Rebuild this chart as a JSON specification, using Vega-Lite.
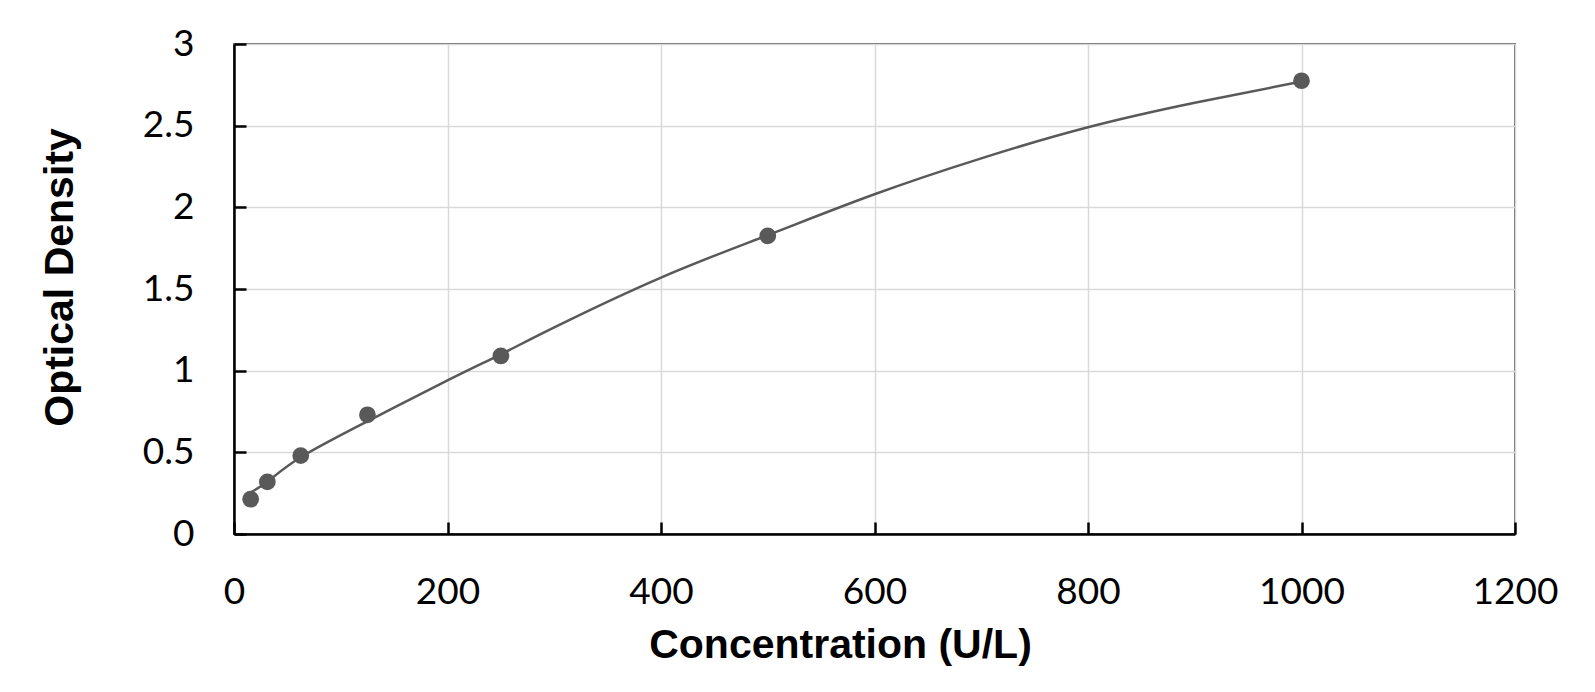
{
  "$schema": "https://vega.github.io/schema/vega-lite/v6.json",
  "width": 1281,
  "height": 490,
  "autosize": "none",
  "padding": {"left": 234, "top": 44, "right": 80, "bottom": 158},
  "background": "white",
  "datasets": {
    "standards": [
      {"conc": 15.6, "od": 0.213},
      {"conc": 31.25, "od": 0.319},
      {"conc": 62.5, "od": 0.48},
      {"conc": 125, "od": 0.73},
      {"conc": 250, "od": 1.09},
      {"conc": 500, "od": 1.825},
      {"conc": 1000, "od": 2.775}
    ],
    "fit": [
      {"conc": 15.6, "od": 0.255},
      {"conc": 31.25, "od": 0.32},
      {"conc": 62.5, "od": 0.47},
      {"conc": 125, "od": 0.69},
      {"conc": 200, "od": 0.94},
      {"conc": 250, "od": 1.1},
      {"conc": 300, "od": 1.265},
      {"conc": 400, "od": 1.57},
      {"conc": 500, "od": 1.83},
      {"conc": 600, "od": 2.08},
      {"conc": 700, "od": 2.3},
      {"conc": 800, "od": 2.49},
      {"conc": 900, "od": 2.64},
      {"conc": 1000, "od": 2.77}
    ]
  },
  "encoding": {
    "x": {
      "field": "conc", "type": "quantitative", "title": "Concentration (U/L)",
      "scale": {"domain": [0, 1200], "nice": false, "zero": true},
      "axis": {"values": [0, 200, 400, 600, 800, 1000, 1200], "format": "d", "labelFlush": false, "titlePadding": 15, "titleX": 606}
    },
    "y": {
      "field": "od", "type": "quantitative", "title": "Optical Density",
      "scale": {"domain": [0, 3], "nice": false},
      "axis": {"values": [0, 0.5, 1, 1.5, 2, 2.5, 3], "format": "~g", "labelFlush": false, "titlePadding": 61, "titleY": 233}
    }
  },
  "layer": [
    {
      "data": {"name": "fit"},
      "mark": {"type": "line", "color": "#595959", "strokeWidth": 2.5, "interpolate": "natural"}
    },
    {
      "data": {"name": "standards"},
      "mark": {"type": "circle", "color": "#595959", "opacity": 1, "size": 280}
    }
  ],
  "config": {
    "view": {"stroke": "#666666", "strokeWidth": 2},
    "axis": {
      "domainColor": "black",
      "domainWidth": 2.5,
      "tickColor": "black",
      "tickWidth": 2.5,
      "tickSize": -12,
      "gridColor": "#d9d9d9",
      "gridWidth": 1.5,
      "labelFont": "Lato",
      "labelFontSize": 37,
      "labelColor": "black",
      "labelPadding": 52,
      "titleFont": "Liberation Sans",
      "titleFontSize": 41,
      "titleFontWeight": "bold",
      "titleColor": "black"
    }
  }
}
